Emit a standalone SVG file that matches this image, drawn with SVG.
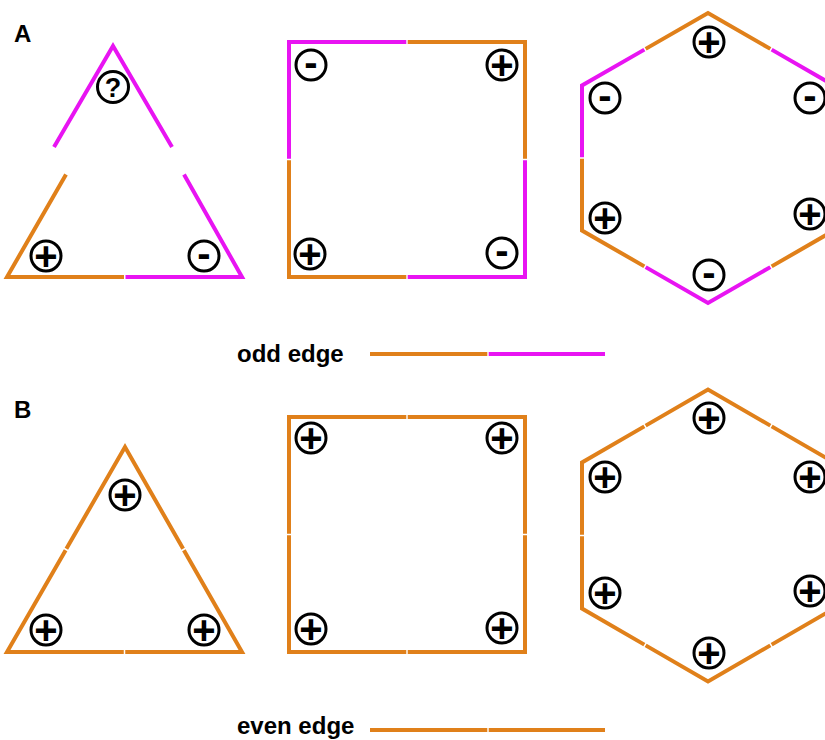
<svg xmlns="http://www.w3.org/2000/svg" width="825" height="740" viewBox="0 0 825 740">
<style>
.o{fill:none;stroke:#E0801A;stroke-width:4;stroke-linejoin:miter;stroke-linecap:butt}
.m{fill:none;stroke:#E814F2;stroke-width:4;stroke-linejoin:miter;stroke-linecap:butt}
.c{fill:#fff;stroke:#000;stroke-width:3}
.s{font-family:"Liberation Sans",Arial,sans-serif;font-weight:bold;font-size:40px;text-anchor:middle;fill:#000}
.q{font-family:"Liberation Sans",Arial,sans-serif;font-weight:bold;font-size:27px;text-anchor:middle;fill:#000}
.lbl{font-family:"Liberation Sans",Arial,sans-serif;font-weight:bold;font-size:24px;fill:#000}
.leg{font-family:"Liberation Sans",Arial,sans-serif;font-weight:bold;font-size:24px;fill:#000}
</style>
<defs>
<g id="plus"><circle class="c" r="15"/><text class="s" y="13.8">+</text></g>
<g id="minus"><circle class="c" r="15"/><text class="s" y="10.5">-</text></g>
</defs>
<rect width="825" height="740" fill="#fff"/>

<text class="lbl" x="14" y="42">A</text>
<text class="lbl" x="14" y="418">B</text>

<g id="connectors">
<!-- Triangle A -->
<polyline class="m" points="54,147 113,46 172,147"/>
<polyline class="o" points="66,174.5 7,277 124,277"/>
<polyline class="m" points="125.5,277 242,277 184,174.5"/>
<!-- Square A -->
<polyline class="m" points="289,158.8 289,42 406.3,42"/>
<polyline class="o" points="407.7,42 525,42 525,158.8"/>
<polyline class="m" points="525,160.2 525,277 407.7,277"/>
<polyline class="o" points="406.3,277 289,277 289,160.2"/>
<!-- Hexagon A -->
<polyline class="o" points="770.35,48.88 708,13 645.65,48.88"/>
<polyline class="m" points="644.35,49.62 582,85.5 582,157.25"/>
<polyline class="o" points="582,158.75 582,230.5 644.35,266.38"/>
<polyline class="m" points="645.65,267.12 708,303 770.35,267.12"/>
<polyline class="o" points="771.65,266.38 834,230.5 834,158.75"/>
<polyline class="m" points="834,157.25 834,85.5 771.65,49.62"/>
<!-- Legend odd -->
<line class="o" x1="370" y1="354" x2="487.3" y2="354"/>
<line class="m" x1="488.7" y1="354" x2="605" y2="354"/>

<!-- Triangle B -->
<polyline class="o" points="66.37,548.85 125,447 183.13,548.85"/>
<polyline class="o" points="65.63,550.15 7,652 123.75,652"/>
<polyline class="o" points="125.25,652 242,652 183.87,550.15"/>
<!-- Square B -->
<polyline class="o" points="289,533.8 289,417 406.3,417"/>
<polyline class="o" points="407.7,417 525,417 525,533.8"/>
<polyline class="o" points="525,535.2 525,652 407.7,652"/>
<polyline class="o" points="406.3,652 289,652 289,535.2"/>
<!-- Hexagon B -->
<polyline class="o" points="770.35,425.63 708,389.5 645.65,425.63"/>
<polyline class="o" points="644.35,426.37 582,462.5 582,534.75"/>
<polyline class="o" points="582,536.25 582,608.5 644.35,644.63"/>
<polyline class="o" points="645.65,645.37 708,681.5 770.35,645.37"/>
<polyline class="o" points="771.65,644.63 834,608.5 834,536.25"/>
<polyline class="o" points="834,534.75 834,462.5 771.65,426.37"/>
<!-- Legend even -->
<line class="o" x1="370" y1="730" x2="487.3" y2="730"/>
<line class="o" x1="488.7" y1="730" x2="605" y2="730"/>
</g>

<g id="triA-top"><circle class="c" cx="113" cy="87" r="15.5"/><text class="q" x="113" y="96.5">?</text></g>
<g id="triA-bl"><use href="#plus" x="46" y="256"/></g>
<g id="triA-br"><use href="#minus" x="204" y="256"/></g>

<g id="sqA-tl"><use href="#minus" x="311" y="65"/></g>
<g id="sqA-tr"><use href="#plus" x="502" y="65"/></g>
<g id="sqA-bl"><use href="#plus" x="310" y="254"/></g>
<g id="sqA-br"><use href="#minus" x="502" y="253"/></g>

<g id="hexA-t"><use href="#plus" x="709" y="42"/></g>
<g id="hexA-ul"><use href="#minus" x="605" y="98"/></g>
<g id="hexA-ur"><use href="#minus" x="810" y="98"/></g>
<g id="hexA-ll"><use href="#plus" x="605" y="218"/></g>
<g id="hexA-lr"><use href="#plus" x="810" y="214"/></g>
<g id="hexA-b"><use href="#minus" x="709" y="275"/></g>

<g id="legend-odd"><text class="leg" x="237" y="362">odd edge</text></g>

<g id="triB-top"><use href="#plus" x="125" y="495"/></g>
<g id="triB-bl"><use href="#plus" x="46" y="630"/></g>
<g id="triB-br"><use href="#plus" x="204" y="630"/></g>

<g id="sqB-tl"><use href="#plus" x="311" y="438"/></g>
<g id="sqB-tr"><use href="#plus" x="502" y="438"/></g>
<g id="sqB-bl"><use href="#plus" x="311" y="629"/></g>
<g id="sqB-br"><use href="#plus" x="502" y="628"/></g>

<g id="hexB-t"><use href="#plus" x="709" y="418"/></g>
<g id="hexB-ul"><use href="#plus" x="605" y="477"/></g>
<g id="hexB-ur"><use href="#plus" x="810" y="477"/></g>
<g id="hexB-ll"><use href="#plus" x="605" y="593"/></g>
<g id="hexB-lr"><use href="#plus" x="810" y="591"/></g>
<g id="hexB-b"><use href="#plus" x="709" y="653"/></g>

<g id="legend-even"><text class="leg" x="237" y="734">even edge</text></g>
</svg>
